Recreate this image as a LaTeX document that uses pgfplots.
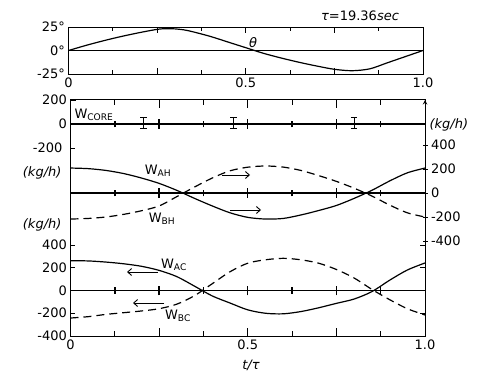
\documentclass[border=0pt]{standalone}
\usepackage{fontspec}
\setmainfont{DejaVu Sans}
\usepackage{pgfplots}
\usepackage{pgfplotstable}
\pgfplotsset{compat=1.18}
\usetikzlibrary{arrows.meta}

\pgfplotstableread{
t v
0 0
0.05 5.5
0.1 10.5
0.15 15
0.2 19
0.25 22.5
0.275 23.2
0.3 23
0.325 22
0.35 20
0.4 15
0.45 9
0.5 3
0.55 -3
0.6 -8
0.65 -12.5
0.7 -16.5
0.75 -20
0.8 -21.5
0.85 -19.5
0.9 -13
0.95 -6.5
1.0 0
}\thetadata

\pgfplotstableread{
t v
0 208
0.05 203
0.1 188
0.15 162
0.2 125
0.25 80
0.3 22
0.35 -45
0.4 -108
0.45 -165
0.5 -203
0.55 -217
0.6 -212
0.65 -183
0.7 -146
0.75 -104
0.8 -45
0.85 22
0.9 100
0.95 168
1.0 208
}\wah

\pgfplotstableread{
t v
0 -217
0.05 -212
0.1 -200
0.15 -178
0.2 -148
0.25 -108
0.3 -30
0.35 50
0.4 125
0.45 185
0.5 215
0.55 225
0.6 216
0.65 188
0.7 145
0.75 97
0.8 40
0.85 -25
0.9 -100
0.95 -165
1.0 -200
}\wbh

\pgfplotstableread{
t v
0 262
0.05 260
0.1 250
0.15 235
0.2 213
0.25 177
0.3 122
0.35 38
0.4 -48
0.45 -110
0.5 -170
0.55 -200
0.6 -205
0.65 -185
0.7 -152
0.75 -113
0.8 -75
0.85 -10
0.9 90
0.95 180
1.0 242
}\wac

\pgfplotstableread{
t v
0 -242
0.05 -230
0.1 -210
0.15 -195
0.2 -180
0.25 -160
0.3 -120
0.35 -45
0.4 60
0.45 165
0.5 240
0.55 270
0.6 283
0.65 270
0.7 240
0.75 185
0.8 110
0.85 10
0.9 -80
0.95 -160
1.0 -215
}\wbc

\pgfplotsset{
  base/.style={scale only axis, xmin=0, xmax=1, anchor=south west,
    axis line style={line width=1pt,-}, x axis line style={-}, y axis line style={-},
    tick style={line width=0.9pt,black},
    tick label style={font=\fontsize{13}{15}\selectfont},
    /pgf/number format/assume math mode=true},
  wbox/.style={base, at={(70.5pt,37pt)}, width=354.5pt, height=236pt},
  yax/.style={axis x line=none, xtick=\empty, tick align=inside, major tick length=5pt},
  curve/.style={black, line width=1.2pt, smooth},
  dcurve/.style={black, line width=1.2pt, smooth, dash pattern=on 8pt off 5pt},
  zline/.style={black, line width=1.4pt, unbounded coords=jump},
}

\begin{document}
\begin{tikzpicture}[font=\fontsize{13}{15}\selectfont]
\useasboundingbox (0,0) rectangle (485pt,373pt);

% theta panel
\begin{axis}[base, at={(68.5pt,299pt)}, width=354.5pt, height=47pt,
  ymin=-25, ymax=25,
  xtick={0,0.25,...,1}, minor x tick num=1, xticklabels={0,,0.5,,1.0},
  tick align=inside, major tick length=6pt, minor tick length=4pt,
  ytick={-25,0,25}, yticklabels={-25°,0°,25°}, ytick pos=left,
  ytick style={draw=none}]
\addplot[black, line width=0.9pt] coordinates {(0,0) (1,0)};
\addplot[curve] table[x=t,y=v] {\thetadata};
\end{axis}

% frame of W panels
\begin{axis}[wbox, ymin=0, ymax=1, ytick=\empty,
  xtick={0,0.25,...,1}, minor x tick num=1, xticklabels={0,,0.5,,1.0},
  tick align=inside, major tick length=8pt, minor tick length=5pt]
\end{axis}

% W_CORE panel (top part of the frame)
\begin{axis}[base, yax, at={(70.5pt,189pt)}, width=354.5pt, height=84pt,
  axis y line=box, ytick pos=left, ymin=-500, ymax=200,
  ytick={0,200}, yticklabels={0,200}]
\addplot[zline] coordinates {(0,0) (1,0) (nan,nan)
  (0.125,-28) (0.125,28) (nan,nan) (0.25,-40) (0.25,40) (nan,nan)
  (0.375,-28) (0.375,28) (nan,nan) (0.5,-40) (0.5,40) (nan,nan)
  (0.625,-28) (0.625,28) (nan,nan) (0.75,-40) (0.75,40) (nan,nan)
  (0.875,-28) (0.875,28)};
\addplot[black, line width=0.9pt] coordinates {(0,-200) (0.014,-200)};
\addplot[black, line width=1.4pt] coordinates {(0,5) (1,5)};
\addplot[black, line width=0.9pt, unbounded coords=jump] coordinates {
  (0.206,-35) (0.206,55) (nan,nan) (0.197,-35) (0.215,-35) (nan,nan) (0.197,55) (0.215,55) (nan,nan)
  (0.460,-35) (0.460,55) (nan,nan) (0.451,-35) (0.469,-35) (nan,nan) (0.451,55) (0.469,55) (nan,nan)
  (0.800,-35) (0.800,55) (nan,nan) (0.791,-35) (0.809,-35) (nan,nan) (0.791,55) (0.809,55)};
\end{axis}

% W_AH / W_BH panel (right scale)
\begin{axis}[wbox, yax, axis y line=right, ymin=-1191.7, ymax=775,
  ytick={-400,-200,0,200,400}, yticklabels={-400,-200,0,200,400}]
\addplot[zline] coordinates {(0,0) (1,0) (nan,nan)
  (0.125,-28) (0.125,28) (nan,nan) (0.25,-40) (0.25,40) (nan,nan)
  (0.375,-28) (0.375,28) (nan,nan) (0.5,-40) (0.5,40) (nan,nan)
  (0.625,-28) (0.625,28) (nan,nan) (0.75,-40) (0.75,40) (nan,nan)
  (0.875,-28) (0.875,28)};
\addplot[curve] table[x=t,y=v] {\wah};
\addplot[dcurve] table[x=t,y=v] {\wbh};
\end{axis}

% W_AC / W_BC panel
\begin{axis}[wbox, yax, axis y line=box, ymin=-400, ymax=1675,
  ytick={-400,-200,0,200,400}, yticklabels={-400,-200,0,200,400}, yticklabel pos=left]
\addplot[zline] coordinates {(0,0) (1,0) (nan,nan)
  (0.125,-30) (0.125,30) (nan,nan) (0.25,-42) (0.25,42) (nan,nan)
  (0.375,-30) (0.375,30) (nan,nan) (0.5,-42) (0.5,42) (nan,nan)
  (0.625,-30) (0.625,30) (nan,nan) (0.75,-42) (0.75,42) (nan,nan)
  (0.875,-30) (0.875,30)};
\addplot[curve] table[x=t,y=v] {\wac};
\addplot[dcurve] table[x=t,y=v] {\wbc};
\end{axis}

% texts
\node[anchor=east] at (66pt,225pt) {-200};
\node at (360pt,357pt) {{\itshape τ}=19.36{\itshape sec}};
\node at (253pt,330pt) {\itshape θ};
\node[anchor=east] at (65pt,200pt) {\itshape (kg/h)};
\node[anchor=east] at (65pt,148pt) {\itshape (kg/h)};
\node[anchor=west] at (426pt,248pt) {\itshape (kg/h)};
\node at (251pt,8pt) {\itshape t/τ};
\node[anchor=west] at (71pt,258pt) {W\textsubscript{CORE}};
\node at (158pt,202pt) {W\textsubscript{AH}};
\node at (162pt,154pt) {W\textsubscript{BH}};
\node at (174pt,108pt) {W\textsubscript{AC}};
\node at (178pt,57pt) {W\textsubscript{BC}};
% arrows
\draw[line width=0.9pt, -{Straight Barb[length=4pt,width=7pt]}] (222pt,198pt) -- (250pt,198pt);
\draw[line width=0.9pt, -{Straight Barb[length=4pt,width=7pt]}] (230pt,163pt) -- (261pt,163pt);
\draw[line width=0.9pt, -{Straight Barb[length=4pt,width=7pt]}] (158pt,101pt) -- (127pt,101pt);
\draw[line width=0.9pt, -{Straight Barb[length=4pt,width=7pt]}] (164pt,70pt) -- (133pt,70pt);
\end{tikzpicture}
\end{document}
